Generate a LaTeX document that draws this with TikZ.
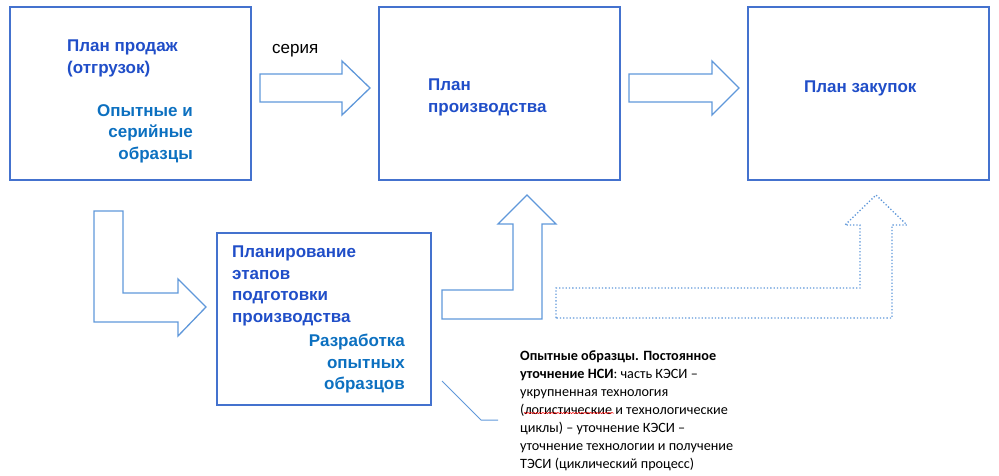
\documentclass[tikz,border=0pt]{standalone}
\usepackage{fontspec}
\setmainfont{Liberation Sans}
\newfontfamily\notefont{Carlito}
\usetikzlibrary{decorations.pathmorphing}

\begin{document}
\begin{tikzpicture}[x=1pt,y=-1pt]
\definecolor{boxcolor}{RGB}{68,114,206}
\definecolor{arrowcolor}{RGB}{96,152,218}
\definecolor{titlecolor}{RGB}{32,78,200}
\definecolor{subcolor}{RGB}{12,112,192}
\definecolor{notecolor}{RGB}{0,0,0}
\tikzset{
  planbox/.style={draw=boxcolor,line width=1.5pt,minimum width=241pt,minimum height=173pt,inner sep=0pt},
  blockarrow/.style={draw=arrowcolor,line width=1.3pt,line join=miter},
  dotarrow/.style={draw=arrowcolor,line width=1.3pt,dotted,line join=miter},
  titletext/.style={font=\fontsize{17}{21.5}\selectfont\bfseries,text=titlecolor,inner sep=0pt},
  subtext/.style={font=\fontsize{17}{21.5}\selectfont\bfseries,text=subcolor,inner sep=0pt}
}
\useasboundingbox (0,0) rectangle (999,475);
\node [planbox] (sales) at (130.5,93.5) {};
\node [planbox] (prod) at (499.5,93.5) {};
\node [planbox] (purch) at (868.5,93.5) {};
\node [planbox,minimum width=214pt,minimum height=172pt] (prep) at (324,319) {};
\node [titletext,anchor=north west,align=left] (salestitle) at (67,40) {План продаж\\(отгрузок)};
\node [subtext,anchor=north east,align=right] (salessub) at (193,104) {Опытные и\\серийные\\образцы};
\node [titletext,anchor=north west,align=left] (prodtitle) at (428,79) {План\\производства};
\node [titletext,anchor=west] (purchtitle) at (804,88) {План закупок};
\node [titletext,anchor=north west,align=left] (preptitle) at (232,246) {Планирование\\этапов\\подготовки\\производства};
\node [subtext,anchor=north east,align=right] (prepsub) at (405,334) {Разработка\\опытных\\образцов};
\node [font=\fontsize{17}{20}\selectfont,anchor=base west,inner sep=0pt] (series) at (272,53) {серия};
\draw [blockarrow] (260,74) -- (342,74) -- (342,61) -- (370,88) -- (342,115) -- (342,102) -- (260,102) -- cycle;
\draw [blockarrow] (629,74) -- (712,74) -- (712,61) -- (739,88) -- (712,115) -- (712,102) -- (629,102) -- cycle;
\draw [blockarrow] (94,211) -- (123,211) -- (123,293) -- (178,293) -- (178,279) -- (206,307) -- (178,336) -- (178,322) -- (94,322) -- cycle;
\draw [blockarrow] (442,319) -- (442,290) -- (513,290) -- (513,224) -- (498,224) -- (527,195) -- (556,224) -- (542,224) -- (542,319) -- cycle;
\draw [dotarrow] (556,318) -- (556,288) -- (860,288) -- (860,225) -- (845,225) -- (876,195) -- (907,225) -- (892,225) -- (892,318) -- cycle;
\node [font=\notefont\fontsize{14.2}{18}\selectfont,text=notecolor,anchor=north west,align=left,inner sep=0pt] (note) at (520,351) {\textbf{Опытные образцы. Постоянное}\\\textbf{уточнение НСИ}: часть КЭСИ –\\укрупненная технология\\(логистические и технологические\\циклы) – уточнение КЭСИ –\\уточнение технологии и получение\\ТЭСИ (циклический процесс)};
\coordinate (calloutstart) at (442,381);
\coordinate (calloutbend) at (481,420);
\coordinate (calloutend) at (498,420);
\draw [arrowcolor,line width=1pt] (calloutstart) -- (calloutbend) -- (calloutend);
\draw [red,line width=0.5pt,decorate,decoration={snake,amplitude=0.6pt,segment length=3pt}] (524,413) -- (614,413);
\end{tikzpicture}
\end{document}
